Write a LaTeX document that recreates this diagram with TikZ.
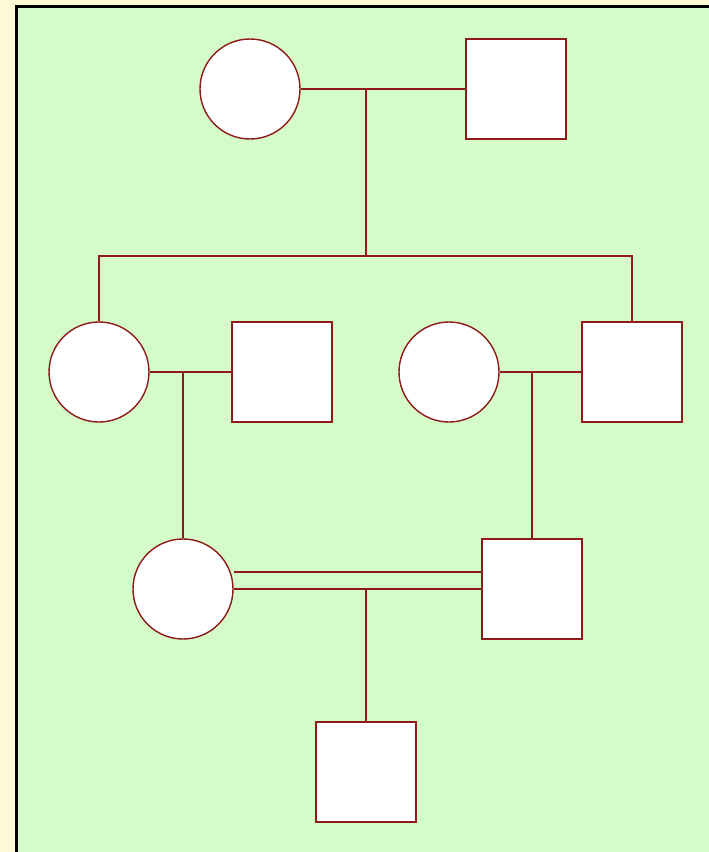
\documentclass[tikz,border=0pt]{standalone}
\usetikzlibrary{positioning}
\definecolor{parch}{HTML}{FFFAD6}
\definecolor{leaf}{HTML}{D4FBC8}
\definecolor{kin}{HTML}{8E1A1A}
\tikzstyle{female} = [circle, draw=kin, fill=white, line width=1.4pt, minimum size=100pt, inner sep=0pt]
\tikzstyle{male} = [rectangle, draw=kin, fill=white, line width=1.4pt, minimum size=100pt, inner sep=0pt]
\tikzstyle{link} = [draw=kin, line width=1.4pt]
\begin{document}
\begin{tikzpicture}[x=1pt, y=-1pt]
%achtergrond
\useasboundingbox (0,0) rectangle (709,852);
\fill[parch] (0,0) rectangle (709,852);
\fill[leaf] (16,6) rectangle (709,852);
\draw[line width=3pt] (16,852) -- (16,6) -- (709,6);
%begin gen1
\node[female] (grandma) at (250,89) {};
\node[male] (grandpa) at (516,89) {};
\coordinate (union1) at (366,89);
\coordinate (sibs1) at (366,256);
%end gen1
%begin gen2
\node[female] (daughterA) at (99,372) {};
\node[male] (husbandA) at (282,372) {};
\node[female] (wifeB) at (449,372) {};
\node[male] (sonB) at (632,372) {};
\coordinate (union2) at (183,372);
\coordinate (union3) at (532,372);
%end gen2
%begin gen3
\node[female] (cousinF) at (183,589) {};
\node[male] (cousinM) at (532,589) {};
\coordinate (union4) at (366,589);
%end gen3
%begin gen4
\node[male] (child) at (366,772) {};
%end gen4
%lijnen
\draw[link] (grandma) -- (grandpa);
\draw[link] (union1) -- (sibs1);
\draw[link] (daughterA.north) |- (sibs1) -| (sonB.north);
\draw[link] (daughterA) -- (husbandA);
\draw[link] (wifeB) -- (sonB);
\draw[link] (union2) -- (cousinF.north);
\draw[link] (union3) -- (cousinM.north);
%dubbele lijn
\draw[link] ([yshift=17pt]cousinF.east) -- ([yshift=17pt]cousinM.west);
\draw[link] (cousinF) -- (cousinM);
\draw[link] (union4) -- (child.north);
\end{tikzpicture}
\end{document}
